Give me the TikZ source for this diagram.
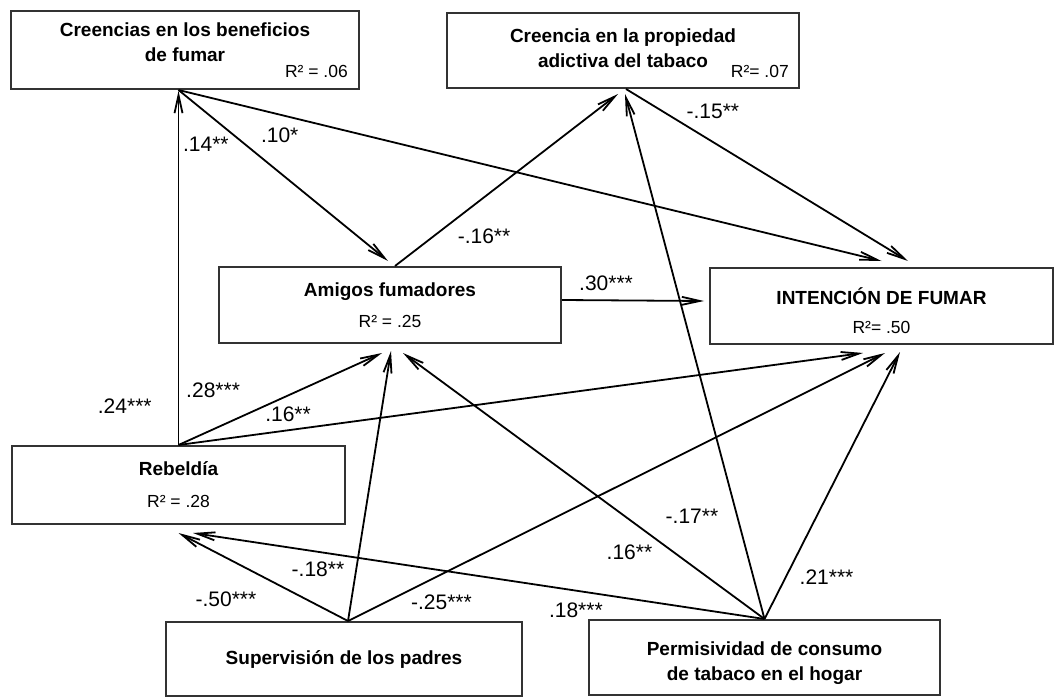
\documentclass[tikz,border=0pt]{standalone}
\usepackage{fontspec}
\setmainfont{Liberation Sans}
\usetikzlibrary{arrows.meta,positioning}

\newcommand{\rsqtext}[1]{{\mdseries\fontsize{17.5}{20}\selectfont #1}}

\begin{document}
\begin{tikzpicture}[
  x=1pt, y=-1pt,
  % Node styles
  var/.style={rectangle, draw=black!80, line width=2pt, fill=white, inner sep=0pt, align=center, font=\fontsize{19}{25}\selectfont\bfseries},
  rsq/.style={inner sep=0pt, font=\fontsize{17.5}{20}\selectfont},
  coef/.style={inner sep=1pt, font=\fontsize{21}{24}\selectfont},
  eff/.style={-{Straight Barb[length=18pt,width=8pt]}, line width=1.8pt}
]

  \path[use as bounding box, fill=white] (0,0) rectangle (1063,698);

  % Variables
  \node[var, minimum width=348pt, minimum height=78pt, text depth=15pt] (creen) at (185,50) {Creencias en los beneficios\\de fumar};
  \node[rsq, anchor=base east] (creenr) at ([xshift=-12pt,yshift=12pt]creen.south east) {R² = .06};

  \node[var, minimum width=352pt, minimum height=75pt, text depth=5pt] (adict) at (623,50.5) {Creencia en la propiedad\\adictiva del tabaco};
  \node[rsq, anchor=base east] (adictr) at ([xshift=-11pt,yshift=11pt]adict.south east) {R²= .07};

  \node[var, minimum width=342pt, minimum height=76pt] (amigos) at (390,305) {Amigos fumadores\\[6pt]\rsqtext{R² = .25}};
  \node[var, minimum width=343pt, minimum height=76pt, text height=55pt] (intenc) at (881.5,306) {INTENCIÓN DE FUMAR\\[4pt]\rsqtext{R²= .50}};
  \node[var, minimum width=333pt, minimum height=78pt] (rebel) at (178.5,485) {Rebeldía\\[7pt]\rsqtext{R² = .28}};
  \node[var, minimum width=356pt, minimum height=74pt] (superv) at (344,659) {Supervisión de los padres};
  \node[var, minimum width=351pt, minimum height=75pt, text height=51pt] (permis) at (764.5,657.5) {Permisividad de consumo\\de tabaco en el hogar};

  \coordinate (creen-out) at (rebel.north |- creen.south);

  % Rebeldía
  \draw[eff] (rebel.north) -- node[coef, pos=.11, left=25pt] {.24***} ([yshift=-1pt]creen-out);
  \draw[eff] (rebel.north) -- node[coef, pos=.17, above=30pt] {.28***} ([xshift=-8pt,yshift=-9pt]amigos.south);
  \draw[eff] (rebel.north) -- node[coef, pos=.16, above=7pt] {.16**} ([xshift=-18.5pt,yshift=-8pt]intenc.south);

  % Creencias en los beneficios
  \draw[eff] (creen-out) -- node[coef, pos=.32, left=15pt] {.14**} ([xshift=-2pt,yshift=5pt]amigos.north);
  \draw[eff] (creen-out) -- node[coef, pos=.144, below=11pt] {.10*} ([yshift=6pt]intenc.north);

  % Amigos fumadores
  \draw[eff] ([xshift=5pt]amigos.north) -- node[coef, pos=.17, right=23pt] {-.16**} ([xshift=-5pt,yshift=-5pt]adict.south);
  \draw[eff] ([yshift=5pt]amigos.east) -- node[coef, pos=.31, above=8pt] {.30***} ([xshift=-5pt,yshift=5pt]intenc.west);

  % Creencia adictiva
  \draw[eff] ([xshift=3pt]adict.south) -- node[coef, pos=.13, right=22pt] {-.15**} ([xshift=26.5pt,yshift=6pt]intenc.north);

  % Supervision
  \draw[eff] ([xshift=4pt]superv.north) -- node[coef, pos=.72, below=32pt] {-.50***} ([yshift=-8pt]rebel.south);
  \draw[eff] ([xshift=4pt]superv.north) -- node[coef, pos=.19, left=10pt] {-.18**} ([xshift=1pt,yshift=-7pt]amigos.south);
  \draw[eff] ([xshift=4pt]superv.north) -- node[coef, pos=.174, below=19pt] {-.25***} ([xshift=3.5pt,yshift=-8pt]intenc.south);

  % Permisividad
  \draw[eff] (permis.north) -- node[coef, pos=.33, below=10pt] {.18***} ([xshift=14.5pt,yshift=-8pt]rebel.south);
  \draw[eff] (permis.north) -- node[coef, pos=.25, left=20pt] {.16**} ([xshift=13pt,yshift=-9pt]amigos.south);
  \draw[eff] (permis.north) -- node[coef, pos=.196, left=17pt] {-.17**} ([xshift=2pt,yshift=-5pt]adict.south);
  \draw[eff] (permis.north) -- node[coef, pos=.157, right=12pt] {.21***} ([xshift=18.5pt,yshift=-7pt]intenc.south);

\end{tikzpicture}
\end{document}
